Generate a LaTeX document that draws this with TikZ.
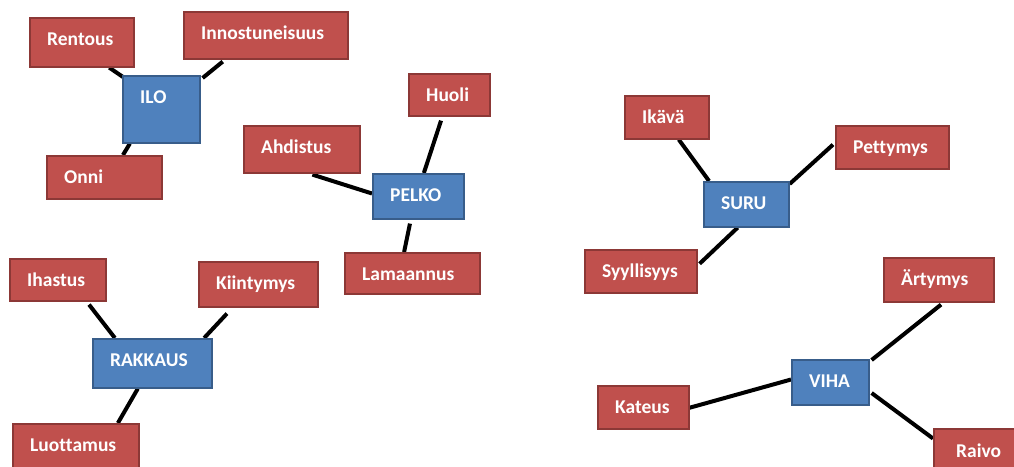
\documentclass[tikz,border=0pt]{standalone}
\usepackage{fontspec}
\setmainfont{Carlito}[Ligatures=NoCommon]
\usetikzlibrary{calc}
\pgfdeclarelayer{bg}
\pgfsetlayers{bg,main}
\definecolor{redfill}{HTML}{C0504D}
\definecolor{redline}{HTML}{8C3836}
\definecolor{bluefill}{HTML}{4F81BD}
\definecolor{blueline}{HTML}{385D8A}
\tikzset{
  redbox/.style={draw=redline, fill=redfill, line width=1.6pt, anchor=north west, inner sep=0pt},
  bluebox/.style={draw=blueline, fill=bluefill, line width=1.6pt, anchor=north west, inner sep=0pt},
  lbl/.style={text=white, anchor=base west, inner sep=0pt, font=\bfseries\fontsize{19.5}{22}\selectfont},
  link/.style={line width=4pt, black},
}
\newcommand{\mybox}[7]{% style, name, x, y, w, h, text
  \node[#1, minimum width=#5pt, minimum height=#6pt] (#2) at (#3,#4) {};
  \node[lbl] (#2-t) at ($(#2.north west)+(18,28)$) {#7};
}
\begin{document}
\begin{tikzpicture}[x=1pt, y=-1pt]
\clip (0,0) rectangle (1014,466);
% ---- ILO group
\mybox{redbox}{rentous}{29}{17}{104}{49}{Rentous}
\mybox{redbox}{innostuneisuus}{183}{11}{164}{47}{Innostuneisuus}
\mybox{bluebox}{ilo}{122}{75}{77}{67}{ILO}
\mybox{redbox}{onni}{46}{155}{115}{43}{Onni}
% ---- PELKO group
\mybox{redbox}{huoli}{408}{73}{81}{42}{Huoli}
\mybox{redbox}{ahdistus}{243}{125}{116}{47}{Ahdistus}
\mybox{bluebox}{pelko}{372}{173}{91}{45}{PELKO}
\mybox{redbox}{lamaannus}{344}{252}{135}{41}{Lamaannus}
% ---- RAKKAUS group
\mybox{redbox}{ihastus}{9}{258}{96}{42}{Ihastus}
\mybox{redbox}{kiintymys}{198}{261}{119}{45}{Kiintymys}
\mybox{bluebox}{rakkaus}{92}{338}{119}{49}{RAKKAUS}
\mybox{redbox}{luottamus}{12}{423}{126}{46}{Luottamus}
% ---- SURU group
\mybox{redbox}{ikava}{624}{95}{84}{43}{Ikävä}
\mybox{redbox}{pettymys}{835}{125}{113}{43}{Pettymys}
\mybox{bluebox}{suru}{703}{181}{85}{45}{SURU}
\mybox{redbox}{syyllisyys}{584}{249}{112}{43}{Syyllisyys}
% ---- VIHA group
\mybox{redbox}{artymys}{883}{257}{110}{44}{Ärtymys}
\mybox{bluebox}{viha}{791}{359}{77}{45}{VIHA}
\mybox{redbox}{kateus}{597}{385}{91}{43}{Kateus}
\node[redbox, minimum width=100pt, minimum height=44pt] (raivo) at (933,428) {};
\node[lbl] (raivo-t) at ($(raivo.north west)+(23,29)$) {Raivo};
% ---- connectors (behind the boxes)
\begin{pgfonlayer}{bg}
\draw[link] ($(rentous.south west)!0.76!(rentous.south east)$) -- ($(ilo.north west)+(1,2)$);
\draw[link] ($(innostuneisuus.south west)!0.24!(innostuneisuus.south east)+(0,2)$) -- ($(ilo.north east)+(2,3)$);
\draw[link] ($(ilo.south west)!0.10!(ilo.south east)$) -- ($(onni.north west)!0.66!(onni.north east)$);
\draw[link] ($(huoli.south west)!0.40!(huoli.south east)+(0,4)$) -- ($(pelko.north west)!0.56!(pelko.north east)$);
\draw[link] ($(ahdistus.south west)!0.59!(ahdistus.south east)+(0,1)$) -- ($(pelko.north west)!0.44!(pelko.south west)$);
\draw[link] ($(pelko.south west)!0.41!(pelko.south east)+(0,4)$) -- ($(lamaannus.north west)!0.44!(lamaannus.north east)$);
\draw[link] ($(ihastus.south west)!0.82!(ihastus.south east)+(0,3)$) -- ($(rakkaus.north west)!0.19!(rakkaus.north east)$);
\draw[link] ($(kiintymys.south west)!0.24!(kiintymys.south east)+(0,6)$) -- ($(rakkaus.north west)!0.93!(rakkaus.north east)$);
\draw[link] ($(rakkaus.south west)!0.38!(rakkaus.south east)$) -- ($(luottamus.north west)!0.83!(luottamus.north east)$);
\draw[link] ($(ikava.south west)!0.64!(ikava.south east)$) -- ($(suru.north west)!0.07!(suru.north east)$);
\draw[link] ($(pettymys.north west)!0.44!(pettymys.south west)+(-2,0)$) -- ($(suru.north east)+(0,3)$);
\draw[link] ($(suru.south west)!0.40!(suru.south east)$) -- ($(syyllisyys.north east)!0.33!(syyllisyys.south east)+(2,0)$);
\draw[link] ($(artymys.south west)!0.52!(artymys.south east)+(0,2)$) -- ($(viha.north east)+(2,1)$);
\draw[link] ($(kateus.north east)!0.51!(kateus.south east)$) -- ($(viha.north west)!0.44!(viha.south west)$);
\draw[link] ($(viha.north east)!0.73!(viha.south east)+(2,0)$) -- ($(raivo.north west)!0.23!(raivo.south west)$);
\end{pgfonlayer}
\end{tikzpicture}
\end{document}
